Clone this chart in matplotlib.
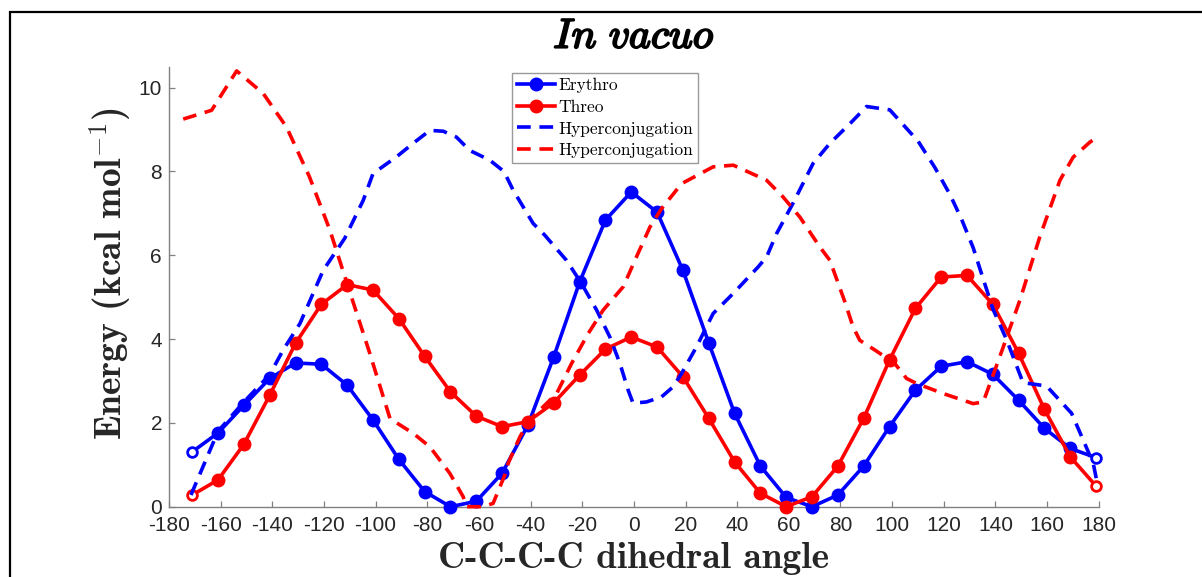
import matplotlib
matplotlib.use('Agg')
import matplotlib.pyplot as plt
import matplotlib.patheffects as pe
from matplotlib.patches import Rectangle

plt.rcParams['mathtext.fontset'] = 'cm'

# dihedral angles of the scan points (deg)
angles = [-171, -161, -151, -141, -131, -121, -111, -101, -91, -81, -71, -61,
          -51, -41, -31, -21, -11, -1, 9, 19, 29, 39, 49, 59,
          69, 79, 89, 99, 109, 119, 129, 139, 149, 159, 169, 179]

erythro = [1.31, 1.76, 2.42, 3.06, 3.43, 3.40, 2.90, 2.07, 1.13, 0.36, 0.00, 0.13,
           0.80, 1.95, 3.58, 5.36, 6.84, 7.51, 7.03, 5.64, 3.91, 2.23, 0.97, 0.22,
           0.00, 0.28, 0.97, 1.91, 2.78, 3.35, 3.46, 3.16, 2.54, 1.87, 1.39, 1.17]

threo = [0.28, 0.64, 1.49, 2.66, 3.90, 4.83, 5.30, 5.17, 4.49, 3.59, 2.74, 2.16,
         1.91, 2.03, 2.48, 3.14, 3.76, 4.05, 3.81, 3.10, 2.11, 1.07, 0.32, 0.00,
         0.24, 0.97, 2.11, 3.50, 4.73, 5.48, 5.52, 4.83, 3.66, 2.32, 1.19, 0.49]

# hyperconjugation curves (own sampling)
hyp_e_x = [-171.5, -161, -151, -141, -135.8, -129.3, -120.3, -112, -104.8, -101,
           -91.9, -85.5, -79, -73.8, -68.7, -63.5, -55.8, -50.3, -46.7, -39,
           -34.5, -30.6, -26.1, -20.3, -14.4, -9.3, -5.4, -2.2, -0.3, 4.9,
           10.7, 15.2, 18.5, 24.3, 30.7, 38.5, 48.1, 51.4, 55.3, 61.7,
           69.4, 75.9, 84.3, 90.1, 99.1, 110.1, 116.6, 122.4, 126.9, 131.4,
           135.3, 139.1, 144.3, 150.7, 159.8, 169.5, 174, 177.9, 179.3]
hyp_e_y = [0.28, 1.80, 2.50, 3.15, 3.74, 4.37, 5.64, 6.40, 7.31, 7.95,
           8.35, 8.67, 8.98, 8.96, 8.82, 8.50, 8.27, 8.00, 7.55, 6.76,
           6.48, 6.20, 5.88, 5.33, 4.69, 4.05, 3.42, 2.78, 2.47, 2.50,
           2.62, 2.86, 3.18, 3.82, 4.61, 5.09, 5.72, 5.96, 6.52, 7.25,
           8.19, 8.67, 9.18, 9.55, 9.47, 8.72, 8.09, 7.45, 6.86, 6.18,
           5.43, 4.71, 3.99, 2.96, 2.88, 2.23, 1.59, 1.03, 0.60]

hyp_t_x = [-174.5, -163.5, -153.8, -143.5, -134.5, -125.6, -117.7, -110.6, -102.2, -94.4,
           -85.4, -79, -71.3, -66.1, -64.8, -58.4, -54.5, -50, -48.7, -44.1,
           -40.3, -29.9, -24.1, -17.7, -11.9, -4.1, 1.0, 6.2, 10.7, 18.5,
           30.7, 38.5, 51.4, 57.8, 64.3, 72, 75.9, 81.7, 84.9, 87.5,
           93.3, 101, 105.6, 109.5, 119.8, 131.4, 135.3, 141.7, 149.5, 157.2,
           165, 170.1, 176.6, 179]
hyp_t_y = [9.25, 9.46, 10.40, 9.86, 9.06, 7.87, 6.60, 5.24, 3.65, 2.10,
           1.75, 1.43, 0.80, 0.24, 0.00, 0.00, 0.08, 0.75, 1.03, 1.67,
           2.07, 2.70, 3.42, 4.13, 4.69, 5.25, 5.96, 6.67, 7.11, 7.71,
           8.11, 8.15, 7.79, 7.39, 6.91, 6.20, 5.88, 4.89, 4.29, 3.97,
           3.74, 3.42, 3.06, 2.94, 2.70, 2.46, 2.50, 3.58, 4.93, 6.44,
           7.79, 8.34, 8.70, 8.80]

xtick_vals = [-180, -160, -140, -120, -100, -80, -60, -40, -20, 0, 20, 40, 60, 80, 100, 120, 140, 160, 180]
xtick_labels = ['-180', '-160', '-140', '-120', '-100', '-80', '-60', '-40', '-20', '0',
                '20', '40', '60', '80', '100', '120', '140', '160', '180']
ytick_vals = [0, 2, 4, 6, 8, 10]
ytick_labels = ['0', '2', '4', '6', '8', '10']

blue = '#0000ff'
red = '#ff0000'

fig = plt.figure(figsize=(12.02, 5.77), dpi=100)
ax = fig.add_axes([169 / 1202, 1 - 506.7 / 577, 929.7 / 1202, 440 / 577])

inner = list(range(1, len(angles) - 1))
ends = [0, len(angles) - 1]

ax.plot(angles, erythro, '-o', color=blue, lw=2.6, ms=9, markevery=inner,
        label='Erythro', clip_on=False, zorder=3)
ax.plot(angles, threo, '-o', color=red, lw=2.6, ms=9, markevery=inner,
        label='Threo', clip_on=False, zorder=3)
ax.plot([angles[i] for i in ends], [erythro[i] for i in ends], 'o', color=blue,
        ms=7, mew=2, mfc='white', clip_on=False, zorder=4)
ax.plot([angles[i] for i in ends], [threo[i] for i in ends], 'o', color=red,
        ms=7, mew=2, mfc='white', clip_on=False, zorder=4)
ax.plot(hyp_e_x, hyp_e_y, '--', color=blue, lw=2.6, dashes=(3.8, 2.4),
        label='Hyperconjugation', clip_on=False, zorder=5)
ax.plot(hyp_t_x, hyp_t_y, '--', color=red, lw=2.6, dashes=(3.8, 2.4),
        label='Hyperconjugation', clip_on=False, zorder=5)

ax.set_xlim(-180, 180)
ax.set_ylim(0, 10.5)
ax.set_xticks(xtick_vals)
ax.set_xticklabels(xtick_labels, family='Liberation Sans', fontsize=15, color='#262626')
ax.set_yticks(ytick_vals)
ax.set_yticklabels(ytick_labels, family='Liberation Sans', fontsize=15, color='#262626')
ax.tick_params(direction='in', length=4, width=0.9, color='#808080')
ax.tick_params(axis='x', pad=7)
ax.tick_params(axis='y', pad=5)
for s in ['top', 'right']:
    ax.spines[s].set_visible(False)
for s in ['left', 'bottom']:
    ax.spines[s].set_color('#808080')
    ax.spines[s].set_linewidth(1.0)

ax.text(0.5, 1.07, r'$\mathit{In\ vacuo}$', transform=ax.transAxes, ha='center',
        va='center', fontsize=30,
        path_effects=[pe.withStroke(linewidth=1.4, foreground='black')])
ax.text(-0.063, 0.531, r'Energy (kcal mol$^{-1}$)', transform=ax.transAxes,
        rotation=90, ha='center', va='center', family='cmb10', fontsize=27,
        color='#262626')
ax.text(0.5, -0.118, 'C-C-C-C dihedral angle', transform=ax.transAxes,
        ha='center', va='center', family='cmb10', fontsize=27, color='#262626')

leg = ax.legend(loc='upper left', bbox_to_anchor=(0.369, 0.986),
                prop={'family': 'cmr10', 'size': 12.5}, handlelength=2.2,
                handletextpad=0.15, labelspacing=0.36, borderpad=0.3,
                borderaxespad=0, fancybox=False, framealpha=1, numpoints=1)
leg.get_frame().set_edgecolor('#999999')
leg.get_frame().set_linewidth(1.0)

fig.patches.append(Rectangle((10 / 1202, -0.1), 1.2, 1.1 - 12 / 577,
                             transform=fig.transFigure, fill=False,
                             edgecolor='black', lw=1.6))

fig.savefig('out.png', dpi=100)
